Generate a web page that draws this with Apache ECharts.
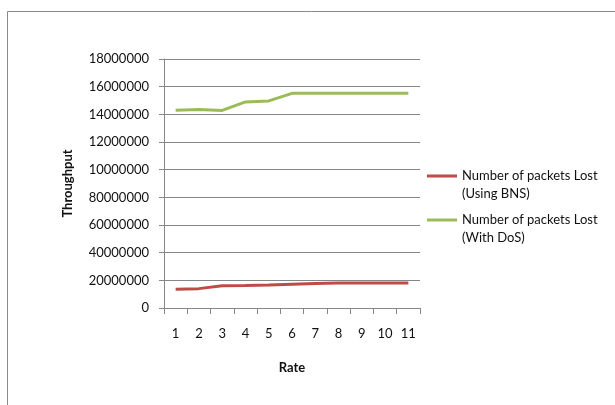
<!DOCTYPE html>
<html>
<head>
<meta charset="utf-8">
<script src="https://cdn.jsdelivr.net/npm/echarts@6/dist/echarts.min.js"></script>
<style>
  html, body { margin: 0; padding: 0; background: #fff; }
  #chart { width: 615px; height: 405px; }
</style>
</head>
<body>
<div id="chart"></div>
<script>
// data
const rates = ['1', '2', '3', '4', '5', '6', '7', '8', '9', '10', '11'];
const lostBNS = [13500000, 14000000, 16100000, 16300000, 16600000, 17200000, 17800000, 18000000, 18000000, 18000000, 18000000];
const lostDoS = [143000000, 143500000, 142800000, 149000000, 149700000, 155200000, 155200000, 155200000, 155200000, 155200000, 155200000];
// tick labels as printed in the original (truncated above 80000000)
const yTickLabels = ['0', '20000000', '40000000', '60000000', '80000000', '10000000', '12000000', '14000000', '16000000', '18000000'];

const chart = echarts.init(document.getElementById('chart'), null, { renderer: 'canvas' });
const font = 'Lato, "Open Sans", sans-serif';

// legend swatch: line at the top of a tall box so it sits level with the first text line
const legendIcon = 'path://M0,0L30,0L30,3L0,3ZM0,21L0,21';

const option = {
  animation: false,
  backgroundColor: '#fff',
  textStyle: { fontFamily: font },
  graphic: [
    {
      type: 'rect',
      left: 5, top: 9,
      shape: { width: 700, height: 500 },
      style: { fill: 'none', stroke: '#8a8a8a', lineWidth: 1 }
    }
  ],
  grid: { left: 164, right: 195, top: 59, bottom: 97 },
  legend: {
    orient: 'vertical',
    left: 422,
    top: 162,
    itemWidth: 30,
    itemHeight: 21,
    itemGap: 8,
    icon: legendIcon,
    itemStyle: { borderWidth: 0 },
    textStyle: { fontSize: 13, color: '#111', fontFamily: font, lineHeight: 18 },
    data: ['Number of packets Lost\n(Using BNS)', 'Number of packets Lost\n(With DoS)']
  },
  xAxis: {
    type: 'category',
    data: rates,
    boundaryGap: true,
    name: 'Rate',
    nameLocation: 'middle',
    nameGap: 53,
    nameTextStyle: { fontSize: 13, fontWeight: 'bold', color: '#111', fontFamily: font },
    axisLine: { lineStyle: { color: '#868686', width: 1 } },
    axisTick: { show: true, length: 6, lineStyle: { color: '#868686' } },
    axisLabel: { fontSize: 13, color: '#111', margin: 19, fontFamily: font }
  },
  yAxis: {
    type: 'value',
    min: 0,
    max: 180000000,
    interval: 20000000,
    name: 'Throughput',
    nameLocation: 'middle',
    nameGap: 90,
    nameRotate: 90,
    nameTextStyle: { fontSize: 13, fontWeight: 'bold', color: '#111', fontFamily: font },
    axisLine: { show: true, lineStyle: { color: '#868686', width: 1 } },
    axisTick: { show: true, length: 5, lineStyle: { color: '#868686' } },
    axisLabel: {
      fontSize: 13, color: '#111', margin: 15, fontFamily: font,
      formatter: (v) => yTickLabels[Math.round(v / 20000000)]
    },
    splitLine: { lineStyle: { color: '#868686', width: 1 } }
  },
  series: [
    {
      name: 'Number of packets Lost\n(Using BNS)',
      type: 'line',
      data: lostBNS,
      symbol: 'none',
      color: '#BE4B48',
      lineStyle: { width: 3, color: '#BE4B48' }
    },
    {
      name: 'Number of packets Lost\n(With DoS)',
      type: 'line',
      data: lostDoS,
      symbol: 'none',
      color: '#9BBB59',
      lineStyle: { width: 3, color: '#9BBB59' }
    }
  ]
};

chart.setOption(option);
</script>
</body>
</html>
